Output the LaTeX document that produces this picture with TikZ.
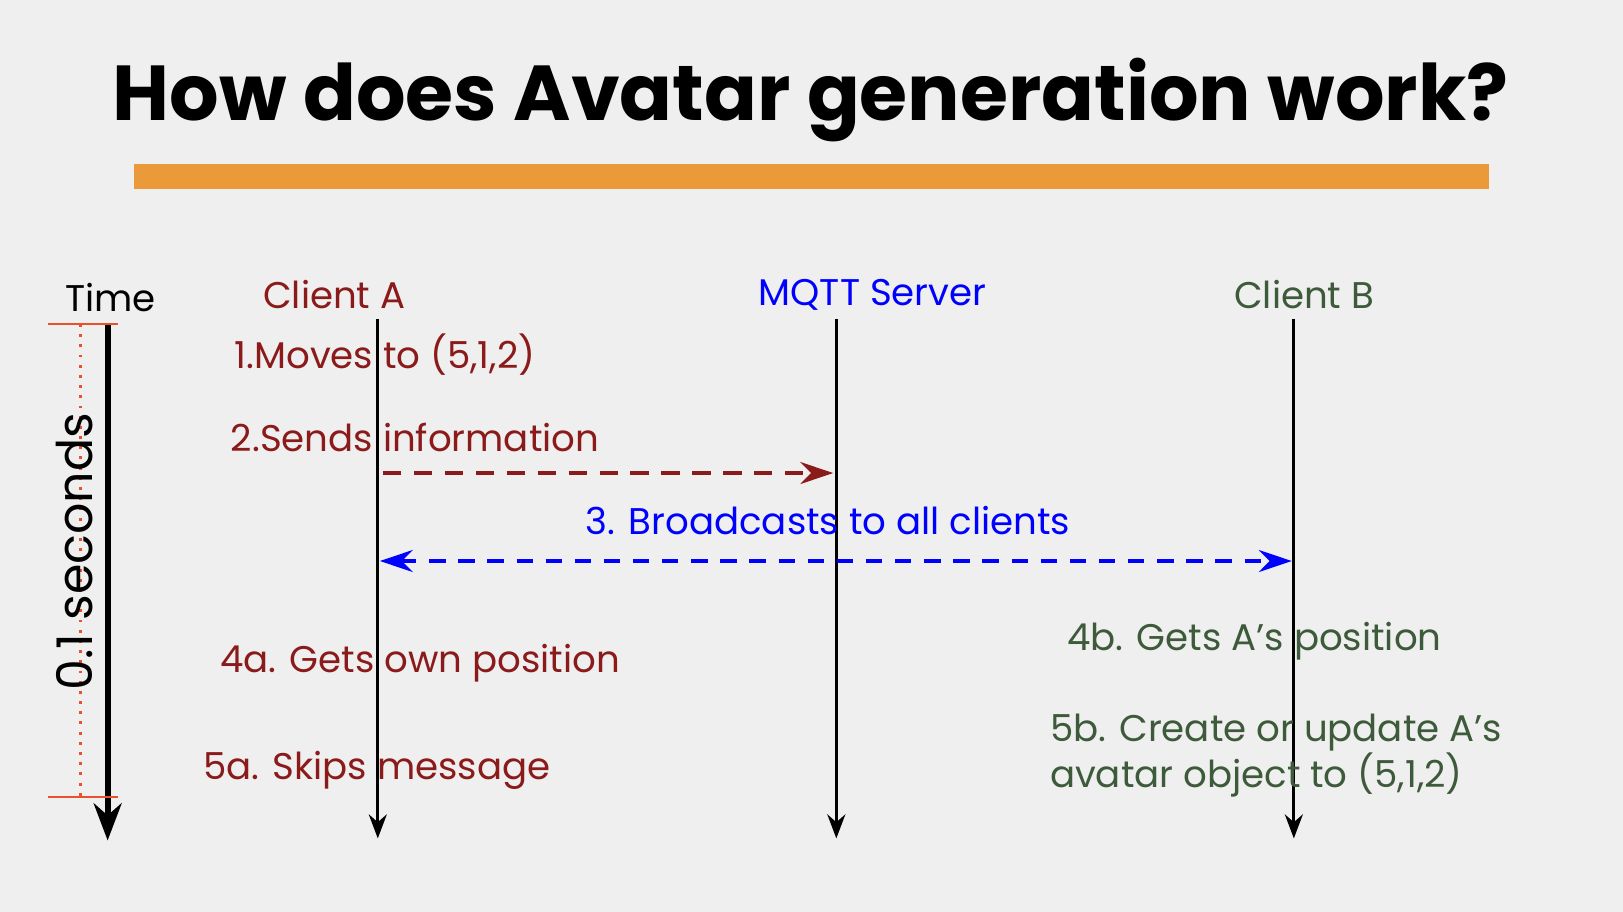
\documentclass[tikz,border=0pt]{standalone}
\usepackage{fontspec}
\setmainfont{Poppins}
\usetikzlibrary{arrows.meta}
\definecolor{bgcol}{HTML}{EFEFEF}
\definecolor{barcol}{HTML}{EB9A3A}
\definecolor{acol}{HTML}{8B1A1A}
\definecolor{bcol}{HTML}{3D5A3A}
\definecolor{tickcol}{HTML}{E8502E}
\begin{document}
\begin{tikzpicture}[x=0.01cm,y=-0.01cm,>=Stealth,
  alab/.style={text=acol,font=\fontsize{10.2}{12.5}\selectfont},
  blab/.style={text=bcol,font=\fontsize{10.2}{12.5}\selectfont},
  life/.style={->,thick}]
\fill[bgcol] (0,0) rectangle (1568,881);
\useasboundingbox (0,0) rectangle (1568,881);
\node (title) at (783,97) {\fontsize{21.4}{25}\selectfont\bfseries How does Avatar generation work?};
\fill[barcol] (129,158) rectangle (1439,183);
% time axis
\node (time) at (107,287) {\fontsize{10.2}{12}\selectfont Time};
\coordinate (t0) at (104,313);
\coordinate (t1) at (104,812);
\draw[->,line width=1.6pt] (t0) -- (t1);
\draw[tickcol,thick] (46,313) -- (114,313);
\draw[tickcol,thick] (46,770) -- (114,770);
\draw[tickcol,dotted,thick] (78,313) -- (78,770);
\node[rotate=90] (secs) at (72,533) {\fontsize{13.5}{16}\selectfont 0.1 seconds};
% participants
\node[alab] (ca) at (323,285) {Client A};
\node[text=blue,font=\fontsize{10.2}{12.5}\selectfont] (srv) at (843,285) {MQTT Server};
\node[blab] (cb) at (1260,285) {Client B};
\draw[life] (365,308) coordinate (a0) -- (365,810) coordinate (a1);
\draw[life] (808,308) coordinate (s0) -- (808,810) coordinate (s1);
\draw[life] (1250,308) coordinate (b0) -- (1250,810) coordinate (b1);
% messages
\node[alab] (m1) at (372,343) {1.Moves to (5,1,2)};
\node[alab] (m2) at (401,423) {2.Sends information};
\draw[-{Stealth[length=9pt,width=6pt]},acol,line width=1.2pt,dash pattern=on 5pt off 3.5pt] (370,457) -- (805,457);
\node[text=blue,font=\fontsize{10.2}{12.5}\selectfont] (m3) at (800,503) {3. Broadcasts to all clients};
\draw[{Stealth[length=9pt,width=6pt]}-{Stealth[length=9pt,width=6pt]},blue,line width=1.2pt,dash pattern=on 4.5pt off 3.5pt] (367,542) -- (1248,542);
\node[alab] (m4a) at (406,641) {4a. Gets own position};
\node[alab] (m5a) at (364,744) {5a. Skips message};
\node[blab] (m4b) at (1212,619) {4b. Gets A’s position};
\node[blab,anchor=west,align=left] (m5b) at (1002,730) {5b. Create or update A’s\\avatar object to (5,1,2)};
\end{tikzpicture}
\end{document}
